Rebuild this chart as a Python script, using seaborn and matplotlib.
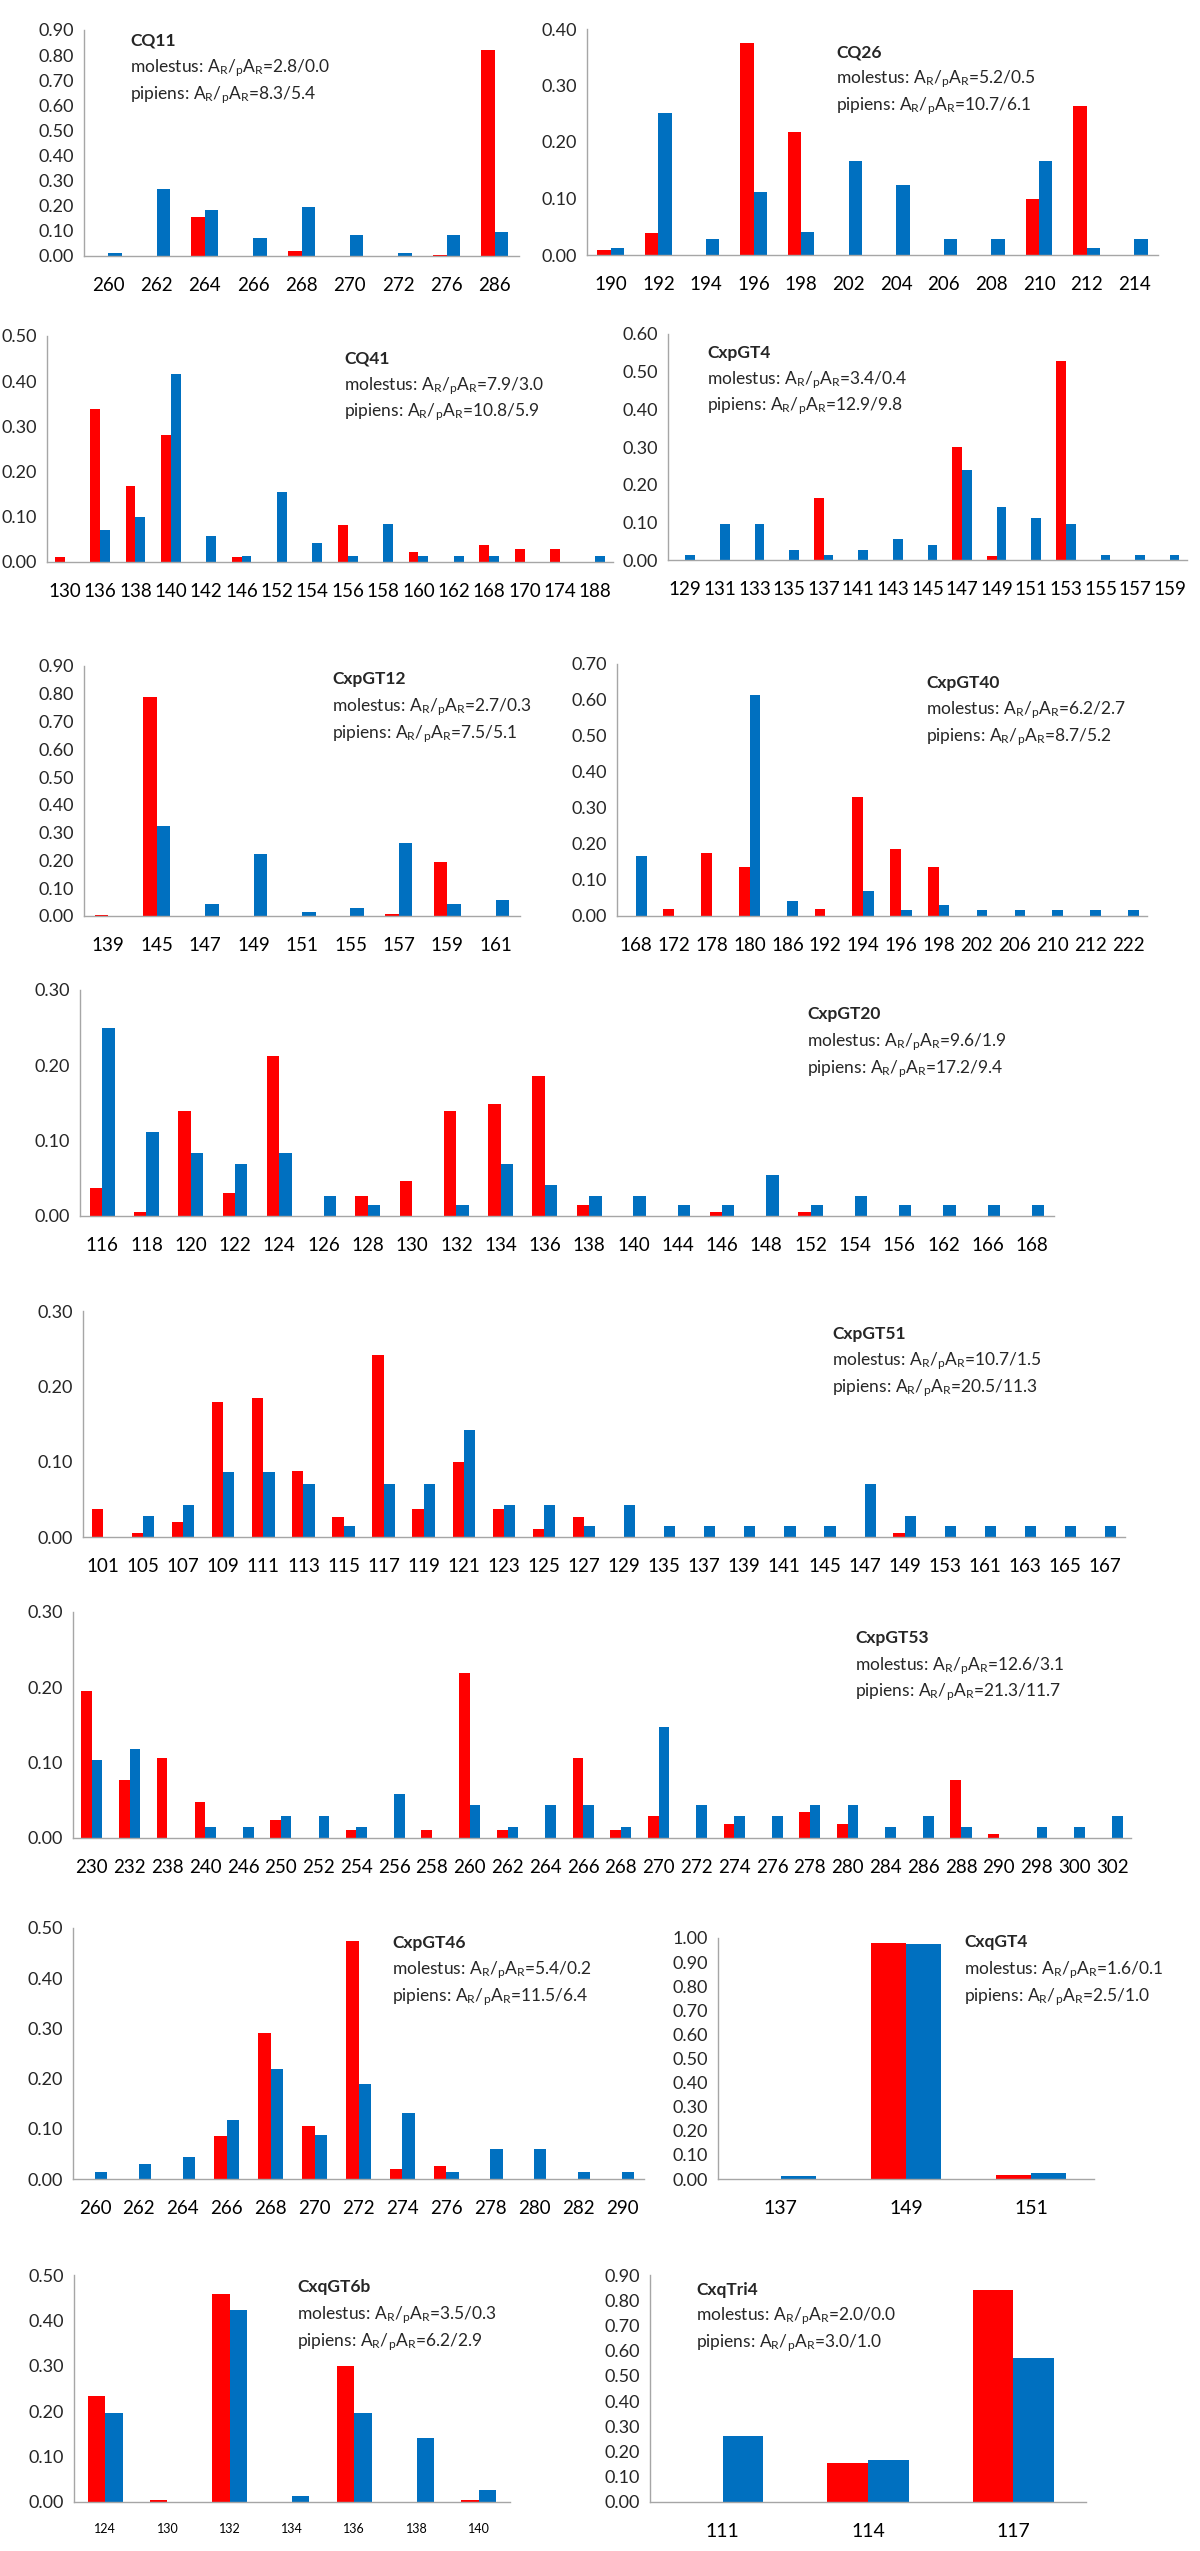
import matplotlib
matplotlib.use("Agg")
from matplotlib import pyplot as plt
from matplotlib.ticker import FormatStrFormatter
import numpy as np
import pandas as pd
import seaborn as sns

sns.set_style("white")
plt.rcParams["font.family"] = ["Lato", "DejaVu Sans"]
plt.rcParams["mathtext.fontset"] = "custom"
plt.rcParams["mathtext.rm"] = "Lato"
plt.rcParams["mathtext.it"] = "Lato:italic"
plt.rcParams["mathtext.bf"] = "Lato:bold"

RED = "#FF0000"
BLUE = "#0070C0"
AXIS = "#A6A6A6"

# ---- data: allele sizes and frequencies (molestus = red, pipiens = blue) ----
cq11_alleles = [260, 262, 264, 266, 268, 270, 272, 276, 286]
cq11_mol = [0, 0, 0.155, 0, 0.018, 0, 0, 0.003, 0.82]
cq11_pip = [0.013, 0.265, 0.182, 0.07, 0.195, 0.085, 0.013, 0.085, 0.095]
cq11_ar = ("2.8/0.0", "8.3/5.4")

cq26_alleles = [190, 192, 194, 196, 198, 202, 204, 206, 208, 210, 212, 214]
cq26_mol = [0.008, 0.039, 0, 0.375, 0.217, 0, 0, 0, 0, 0.099, 0.263, 0]
cq26_pip = [0.012, 0.251, 0.028, 0.111, 0.041, 0.167, 0.124, 0.028, 0.028, 0.167, 0.013, 0.028]
cq26_ar = ("5.2/0.5", "10.7/6.1")

cq41_alleles = [130, 136, 138, 140, 142, 146, 152, 154, 156, 158, 160, 162, 168, 170, 174, 188]
cq41_mol = [0.012, 0.339, 0.168, 0.282, 0, 0.012, 0, 0, 0.082, 0, 0.022, 0, 0.037, 0.029, 0.029, 0]
cq41_pip = [0, 0.07, 0.099, 0.417, 0.057, 0.014, 0.154, 0.043, 0.014, 0.084, 0.014, 0.014, 0.014, 0, 0, 0.014]
cq41_ar = ("7.9/3.0", "10.8/5.9")

gt4_alleles = [129, 131, 133, 135, 137, 141, 143, 145, 147, 149, 151, 153, 155, 157, 159]
gt4_mol = [0, 0, 0, 0, 0.165, 0, 0, 0, 0.299, 0.01, 0, 0.529, 0, 0, 0]
gt4_pip = [0.013, 0.096, 0.096, 0.027, 0.014, 0.027, 0.056, 0.041, 0.238, 0.14, 0.111, 0.096, 0.014, 0.014, 0.014]
gt4_ar = ("3.4/0.4", "12.9/9.8")

gt12_alleles = [139, 145, 147, 149, 151, 155, 157, 159, 161]
gt12_mol = [0.003, 0.787, 0, 0, 0, 0, 0.008, 0.194, 0]
gt12_pip = [0, 0.324, 0.043, 0.222, 0.013, 0.029, 0.263, 0.043, 0.059]
gt12_ar = ("2.7/0.3", "7.5/5.1")

gt40_alleles = [168, 172, 178, 180, 186, 192, 194, 196, 198, 202, 206, 210, 212, 222]
gt40_mol = [0, 0.019, 0.175, 0.136, 0, 0.019, 0.33, 0.186, 0.136, 0, 0, 0, 0, 0]
gt40_pip = [0.167, 0, 0, 0.613, 0.042, 0, 0.069, 0.016, 0.03, 0.016, 0.016, 0.016, 0.016, 0.016]
gt40_ar = ("6.2/2.7", "8.7/5.2")

gt20_alleles = [116, 118, 120, 122, 124, 126, 128, 130, 132, 134, 136, 138, 140, 144, 146,
                148, 152, 154, 156, 162, 166, 168]
gt20_mol = [0.037, 0.005, 0.139, 0.031, 0.213, 0, 0.026, 0.047, 0.139, 0.149, 0.186, 0.015,
            0, 0, 0.005, 0, 0.005, 0, 0, 0, 0, 0]
gt20_pip = [0.25, 0.111, 0.083, 0.069, 0.083, 0.027, 0.014, 0, 0.014, 0.069, 0.041, 0.027,
            0.027, 0.014, 0.014, 0.055, 0.014, 0.027, 0.014, 0.014, 0.014, 0.014]
gt20_ar = ("9.6/1.9", "17.2/9.4")

gt51_alleles = [101, 105, 107, 109, 111, 113, 115, 117, 119, 121, 123, 125, 127, 129, 135,
                137, 139, 141, 145, 147, 149, 153, 161, 163, 165, 167]
gt51_mol = [0.037, 0.005, 0.02, 0.179, 0.185, 0.088, 0.026, 0.242, 0.037, 0.1, 0.037, 0.01,
            0.026, 0, 0, 0, 0, 0, 0, 0, 0.005, 0, 0, 0, 0, 0]
gt51_pip = [0, 0.028, 0.042, 0.086, 0.086, 0.071, 0.014, 0.071, 0.071, 0.142, 0.042, 0.042,
            0.014, 0.042, 0.014, 0.014, 0.014, 0.014, 0.014, 0.071, 0.028, 0.014, 0.014,
            0.014, 0.014, 0.014]
gt51_ar = ("10.7/1.5", "20.5/11.3")

gt53_alleles = [230, 232, 238, 240, 246, 250, 252, 254, 256, 258, 260, 262, 264, 266, 268,
                270, 272, 274, 276, 278, 280, 284, 286, 288, 290, 298, 300, 302]
gt53_mol = [0.195, 0.077, 0.106, 0.048, 0, 0.024, 0, 0.011, 0, 0.011, 0.219, 0.011, 0, 0.106,
            0.011, 0.029, 0, 0.018, 0, 0.034, 0.018, 0, 0, 0.077, 0.005, 0, 0, 0]
gt53_pip = [0.103, 0.118, 0, 0.015, 0.015, 0.029, 0.029, 0.015, 0.058, 0, 0.044, 0.015, 0.044,
            0.044, 0.015, 0.147, 0.044, 0.029, 0.029, 0.044, 0.044, 0.015, 0.029, 0.015, 0,
            0.015, 0.015, 0.029]
gt53_ar = ("12.6/3.1", "21.3/11.7")

gt46_alleles = [260, 262, 264, 266, 268, 270, 272, 274, 276, 278, 280, 282, 290]
gt46_mol = [0, 0, 0, 0.086, 0.291, 0.105, 0.475, 0.019, 0.025, 0, 0, 0, 0]
gt46_pip = [0.014, 0.029, 0.044, 0.117, 0.219, 0.088, 0.19, 0.132, 0.014, 0.059, 0.059, 0.014, 0.014]
gt46_ar = ("5.4/0.2", "11.5/6.4")

qgt4_alleles = [137, 149, 151]
qgt4_mol = [0, 0.98, 0.017]
qgt4_pip = [0.012, 0.975, 0.025]
qgt4_ar = ("1.6/0.1", "2.5/1.0")

gt6b_alleles = [124, 130, 132, 134, 136, 138, 140]
gt6b_mol = [0.233, 0.004, 0.458, 0, 0.299, 0, 0.004]
gt6b_pip = [0.196, 0, 0.424, 0.013, 0.196, 0.14, 0.026]
gt6b_ar = ("3.5/0.3", "6.2/2.9")

tri4_alleles = [111, 114, 117]
tri4_mol = [0, 0.153, 0.841]
tri4_pip = [0.262, 0.165, 0.571]
tri4_ar = ("2.0/0.0", "3.0/1.0")

W, H = 1200, 2551
fig = plt.figure(figsize=(W / 100, H / 100), dpi=100)


def panel(name, alleles, mol, pip, ar, ymax, box, txt, xsize=13.5):
    left, right, top, bottom = box
    ax = fig.add_axes([left / W, 1 - bottom / H, (right - left) / W, (bottom - top) / H])
    labels = [str(a) for a in alleles]
    df = pd.DataFrame({
        "allele": labels * 2,
        "form": ["molestus"] * len(labels) + ["pipiens"] * len(labels),
        "freq": list(mol) + list(pip),
    })
    sns.barplot(data=df, x="allele", y="freq", hue="form", order=labels,
                hue_order=["molestus", "pipiens"], palette=[RED, BLUE],
                width=0.56, saturation=1, linewidth=0, errorbar=None,
                legend=False, ax=ax)
    n = len(labels)
    ax.set_xlim(-0.5, n - 0.5)
    ax.set_ylim(0, ymax)
    ax.set_xticks(range(n))
    ax.set_xticklabels(labels, fontsize=xsize)
    ax.set_xticks(np.arange(n + 1) - 0.5, minor=True)
    ax.set_yticks(np.arange(0, ymax + 1e-9, 0.1))
    ax.yaxis.set_major_formatter(FormatStrFormatter("%.2f"))
    ax.tick_params(axis="x", which="major", length=0, pad=15, colors="black")
    ax.tick_params(axis="x", which="minor", length=4, width=1, color=AXIS, direction="out")
    ax.tick_params(axis="y", length=3, width=1, color=AXIS, direction="out", pad=4, labelsize=13)
    for s in ["top", "right"]:
        ax.spines[s].set_visible(False)
    for s in ["left", "bottom"]:
        ax.spines[s].set_color(AXIS)
        ax.spines[s].set_linewidth(1)
    ax.set_xlabel("")
    ax.set_ylabel("")
    ax.grid(False)

    tx, ty0, ty1, ty2 = txt
    sub = r"A$_\mathrm{R}$/$_\mathrm{p}$A$_\mathrm{R}$="
    fig.text(tx / W, 1 - ty0 / H, name, fontsize=12.5, fontweight="bold", va="center")
    fig.text(tx / W, 1 - ty1 / H, "molestus: " + sub + ar[0], fontsize=12.5, va="center")
    fig.text(tx / W, 1 - ty2 / H, "pipiens: " + sub + ar[1], fontsize=12.5, va="center")
    return ax


panel("CQ11", cq11_alleles, cq11_mol, cq11_pip, cq11_ar, 0.9,
      (84, 519, 30, 256), (130, 41, 68, 95))
panel("CQ26", cq26_alleles, cq26_mol, cq26_pip, cq26_ar, 0.4,
      (587, 1158, 29, 255), (836, 52, 79, 106))
panel("CQ41", cq41_alleles, cq41_mol, cq41_pip, cq41_ar, 0.5,
      (47, 613, 336, 562), (344, 359, 386, 412))
panel("CxpGT4", gt4_alleles, gt4_mol, gt4_pip, gt4_ar, 0.6,
      (668, 1187, 334, 560), (707, 353, 380, 406))
panel("CxpGT12", gt12_alleles, gt12_mol, gt12_pip, gt12_ar, 0.9,
      (84, 520, 666, 916), (332, 679, 707, 734))
panel("CxpGT40", gt40_alleles, gt40_mol, gt40_pip, gt40_ar, 0.7,
      (617, 1147, 664, 916), (926, 683, 710, 737))
panel("CxpGT20", gt20_alleles, gt20_mol, gt20_pip, gt20_ar, 0.3,
      (80, 1054, 990, 1216), (807, 1014, 1042, 1069))
panel("CxpGT51", gt51_alleles, gt51_mol, gt51_pip, gt51_ar, 0.3,
      (83, 1125, 1311, 1537), (832, 1334, 1361, 1388))
panel("CxpGT53", gt53_alleles, gt53_mol, gt53_pip, gt53_ar, 0.3,
      (73, 1131, 1612, 1838), (855, 1638, 1666, 1692))
panel("CxpGT46", gt46_alleles, gt46_mol, gt46_pip, gt46_ar, 0.5,
      (73, 644, 1928, 2179), (392, 1943, 1970, 1997))
panel("CxqGT4", qgt4_alleles, qgt4_mol, qgt4_pip, qgt4_ar, 1.0,
      (718, 1094, 1938, 2179), (964, 1942, 1970, 1997), xsize=14)
panel("CxqGT6b", gt6b_alleles, gt6b_mol, gt6b_pip, gt6b_ar, 0.5,
      (74, 510, 2275, 2502), (297, 2287, 2315, 2342), xsize=9)
panel("CxqTri4", tri4_alleles, tri4_mol, tri4_pip, tri4_ar, 0.9,
      (650, 1086, 2275, 2502), (696, 2290, 2316, 2343), xsize=14)

fig.savefig("out.png", dpi=100, facecolor="white")
